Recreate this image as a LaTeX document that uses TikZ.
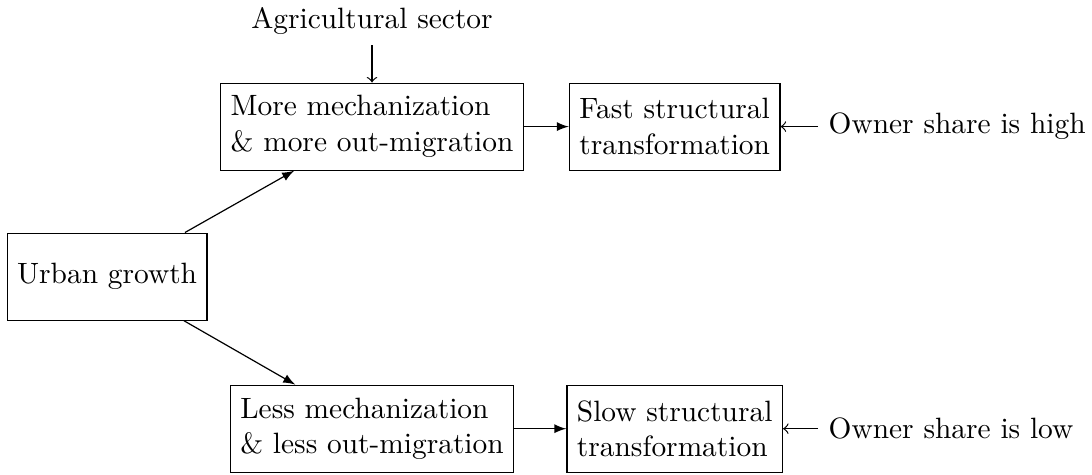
\documentclass[tikz,border=0pt]{standalone}
\begin{document}
\begin{tikzpicture}[x=1pt,y=1pt,
  every node/.style={font=\fontsize{9.8pt}{11.9pt}\selectfont},
  box/.style={draw, align=left, minimum height=29pt, inner sep=3.33pt},
  plain/.style={inner sep=3.33pt},
  flow/.style={-latex},
  feed/.style={->}]
\useasboundingbox (0,0) rectangle (364,-158);
% boxes
\node[box] (ug) at (35.7,-92.2) {Urban growth};
\node[box] (more) at (124,-42.2) {More mechanization\\\& more out-migration};
\node[box] (less) at (124,-142.9) {Less mechanization\\\& less out-migration};
\node[box] (fast) at (224.9,-42.2) {Fast structural\\transformation};
\node[box] (slow) at (224.9,-142.9) {Slow structural\\transformation};
% outside influences
\node[plain] (agri) at (124,-7) {Agricultural sector};
\node[plain, anchor=west] (high) at (272.7,-42.2) {Owner share is high};
\node[plain, anchor=west] (low) at (272.7,-142.9) {Owner share is low};
% connectors
\draw[flow] (ug) -- (more);
\draw[flow] (ug) -- (less);
\draw[flow] (more) -- (fast);
\draw[flow] (less) -- (slow);
\draw[feed] (agri) -- (more);
\draw[feed] (high) -- (fast);
\draw[feed] (low) -- (slow);
\end{tikzpicture}
\end{document}
